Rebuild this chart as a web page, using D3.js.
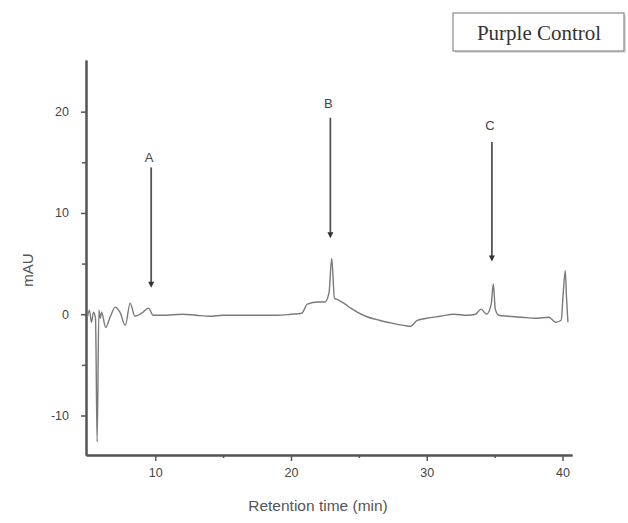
<!DOCTYPE html>
<html>
<head>
<meta charset="utf-8">
<script src="https://cdn.jsdelivr.net/npm/d3@7"></script>
<style>
  body { margin: 0; background: #fff; }
  svg { display: block; }
</style>
</head>
<body>
<div id="chart"></div>
<script>
// chromatogram trace: retention time (min) vs absorbance (mAU)
var times = [5.0, 5.15, 5.3, 5.45, 5.6, 5.72, 5.85, 5.95, 6.05, 6.35, 6.7, 7.05, 7.4, 7.8, 8.15, 8.5,
  9.0, 9.5, 9.85, 10.5, 12, 13, 14, 15, 16, 17, 18, 19, 20, 20.8, 21.2, 22, 22.5, 22.8, 23.0, 23.2,
  23.5, 24.0, 24.4, 25.5, 26.5, 27.5, 28.3, 28.8, 29.3, 30, 31, 32, 33, 33.6, 34.0, 34.4, 34.75, 34.9,
  35.05, 35.3, 36, 37, 38, 39, 39.5, 39.9, 40.05, 40.2, 40.3, 40.4];
var mAU = [-0.3, 0.4, -0.8, 0.2, -0.4, -12.6, 0.4, -0.4, 0.2, -1.3, -0.2, 0.7, 0.2, -1.1, 1.1, -0.2,
  0.1, 0.6, -0.1, -0.1, 0.0, -0.1, -0.2, -0.1, -0.1, -0.1, -0.1, -0.1, 0.0, 0.1, 1.0, 1.2, 1.2, 2.1, 5.5, 1.6,
  1.4, 1.0, 0.6, -0.2, -0.6, -0.9, -1.1, -1.2, -0.6, -0.4, -0.2, 0.0, -0.1, 0.0, 0.5, 0.0, 1.0, 3.0,
  0.5, -0.1, -0.2, -0.3, -0.4, -0.3, -0.8, -0.6, 2.0, 4.3, 1.5, -0.8];

var xTicks = [10, 20, 30, 40];
var xMinor = [15, 25, 35];
var yTicks = [-10, 0, 10, 20];
var yMinor = [-5, 5, 15];

// peak markers
var peakNames = ["A", "B", "C"];
var peakTimes = [9.7, 22.9, 34.8];
var arrowTop = [14.5, 19.4, 17.0];
var arrowTip = [2.7, 7.6, 5.3];
var labelLevel = [15.5, 20.8, 18.6];

var width = 628, height = 523;
var svg = d3.select("#chart").append("svg").attr("width", width).attr("height", height);

var x = d3.scaleLinear().domain([4.9, 40.7]).range([86, 572]);
var y = d3.scaleLinear().domain([-13.9, 25.1]).range([455, 60]);

var axisColor = "#555";
var font = "'Liberation Sans', Arial, sans-serif";
var plain = function(d) { return String(d); };

// minor ticks first, then the labelled axes on top
svg.append("g")
    .attr("transform", "translate(0," + y.range()[0] + ")")
    .call(d3.axisBottom(x).tickValues(xMinor).tickSize(3).tickFormat("").tickSizeOuter(0));
svg.append("g")
    .attr("transform", "translate(" + x.range()[0] + ",0)")
    .call(d3.axisLeft(y).tickValues(yMinor).tickSize(4).tickFormat("").tickSizeOuter(0));

svg.append("g")
    .attr("transform", "translate(0," + y.range()[0] + ")")
    .call(d3.axisBottom(x).tickValues(xTicks).tickFormat(plain).tickSize(6).tickPadding(7).tickSizeOuter(0));
svg.append("g")
    .attr("transform", "translate(" + x.range()[0] + ",0)")
    .call(d3.axisLeft(y).tickValues(yTicks).tickFormat(plain).tickSize(5).tickPadding(12).tickSizeOuter(0));

svg.selectAll(".domain").attr("stroke", axisColor).attr("stroke-width", 2);
svg.selectAll(".tick line").attr("stroke", axisColor).attr("stroke-width", 1.5);
svg.selectAll(".tick text")
    .attr("fill", "#444")
    .style("font-family", font)
    .style("font-size", "12.5px");

// axis titles
svg.append("text")
    .attr("x", 318).attr("y", 511)
    .attr("text-anchor", "middle")
    .attr("fill", "#555")
    .style("font-family", font).style("font-size", "15.5px")
    .text("Retention time (min)");
svg.append("text")
    .attr("transform", "translate(33,270) rotate(-90)")
    .attr("text-anchor", "middle")
    .attr("fill", "#555")
    .style("font-family", font).style("font-size", "15px")
    .text("mAU");

// trace
var pts = times.map(function(t, i) { return [t, mAU[i]]; });
var line = d3.line()
    .curve(d3.curveMonotoneX)
    .x(function(d) { return x(d[0]); })
    .y(function(d) { return y(d[1]); });
svg.append("path")
    .datum(pts)
    .attr("d", line)
    .attr("fill", "none")
    .attr("stroke", "#7a7a7a")
    .attr("stroke-width", 1.4)
    .attr("stroke-linejoin", "round");

// arrows pointing at peaks
peakNames.forEach(function(name, i) {
    var px = x(peakTimes[i]);
    svg.append("line")
        .attr("x1", px).attr("x2", px)
        .attr("y1", y(arrowTop[i])).attr("y2", y(arrowTip[i]) - 3)
        .attr("stroke", "#555").attr("stroke-width", 1.8);
    var tip = y(arrowTip[i]);
    svg.append("path")
        .attr("d", "M" + (px - 3) + "," + (tip - 5) + "L" + (px + 3) + "," + (tip - 5) + "L" + px + "," + (tip + 1) + "Z")
        .attr("fill", "#333");
    svg.append("text")
        .attr("x", px - 2).attr("y", y(labelLevel[i]))
        .attr("dy", "0.35em")
        .attr("text-anchor", "middle")
        .attr("fill", "#444")
        .style("font-family", font).style("font-size", "13px")
        .text(name);
});

// title box
var box = svg.append("g");
box.append("rect")
    .attr("x", 455).attr("y", 15).attr("width", 171).attr("height", 38)
    .attr("fill", "#ddd");
box.append("rect")
    .attr("x", 453).attr("y", 13).attr("width", 171).attr("height", 38)
    .attr("fill", "#fff").attr("stroke", "#888").attr("stroke-width", 1.2);
box.append("text")
    .attr("x", 539).attr("y", 40)
    .attr("text-anchor", "middle")
    .attr("fill", "#333")
    .style("font-family", "'Liberation Serif', 'Times New Roman', serif")
    .style("font-size", "21px")
    .text("Purple Control");
</script>
</body>
</html>
